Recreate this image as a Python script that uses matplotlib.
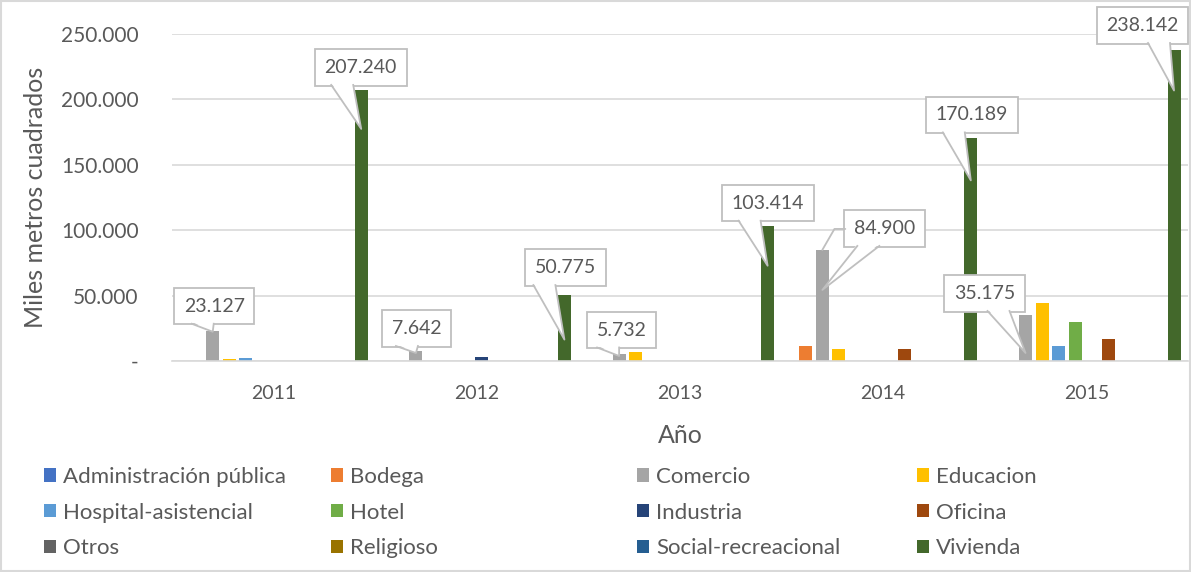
import matplotlib
matplotlib.use("Agg")
import matplotlib.pyplot as plt
from matplotlib.patches import Rectangle, Polygon
from matplotlib.lines import Line2D
from matplotlib.transforms import ScaledTranslation
from matplotlib.ticker import FuncFormatter
import numpy as np

plt.rcParams['font.family'] = ['Lato', 'DejaVu Sans']

# datos (miles de metros cuadrados por año)
anios = ['2011', '2012', '2013', '2014', '2015']
categorias = ['Administración pública', 'Bodega', 'Comercio', 'Educacion',
              'Hospital-asistencial', 'Hotel', 'Industria', 'Oficina',
              'Otros', 'Religioso', 'Social-recreacional', 'Vivienda']
admin = [0, 0, 0, 0, 0]
bodega = [0, 0, 0, 11500, 0]
comercio = [23127, 7642, 5732, 84900, 35175]
educacion = [1800, 0, 7200, 9500, 44000]
hospital = [2600, 0, 0, 0, 11500]
hotel = [0, 0, 0, 0, 30000]
industria = [0, 3000, 0, 0, 0]
oficina = [0, 0, 0, 9500, 16500]
otros = [0, 0, 0, 0, 0]
religioso = [0, 0, 0, 0, 0]
social = [0, 0, 0, 0, 0]
vivienda = [207240, 50775, 103414, 170189, 238142]

series = [admin, bodega, comercio, educacion, hospital, hotel, industria,
          oficina, otros, religioso, social, vivienda]
colores = ['#4472C4', '#ED7D31', '#A5A5A5', '#FFC000', '#5B9BD5', '#70AD47',
           '#264478', '#9E480E', '#636363', '#997300', '#255E91', '#43682B']

gris = '#595959'
linea = '#D9D9D9'
borde = '#BFBFBF'

fig = plt.figure(figsize=(11.91, 5.72), dpi=100)
ax = fig.add_axes([172/1191, 1-361/572, 1016/1191, 327/572])

x = np.arange(len(anios))
paso = 0.0812
ancho = 0.064
barras = []
for i, (vals, c) in enumerate(zip(series, colores)):
    off = -0.462 + i*paso
    b = ax.bar(x + off, vals, width=ancho, color=c, label=categorias[i], zorder=3)
    barras.append(b)

ax.set_xlim(-0.5, 4.5)
ax.set_ylim(0, 250000)
ax.set_yticks(np.arange(0, 250001, 50000))
ax.yaxis.set_major_formatter(FuncFormatter(
    lambda v, p: '-' if v == 0 else f'{int(v):,}'.replace(',', '.')))
ax.set_xticks(x)
ax.set_xticklabels(anios)
ax.tick_params(axis='both', length=0, colors=gris)
ax.tick_params(axis='y', pad=24, labelsize=15)
ax.tick_params(axis='x', pad=17, labelsize=14)
ax.grid(axis='y', color=linea, linewidth=1.2, zorder=0)
for s in ['top', 'right', 'left']:
    ax.spines[s].set_visible(False)
ax.spines['bottom'].set_color(linea)
ax.spines['bottom'].set_linewidth(1.2)
ax.spines['bottom'].set_zorder(4)

ax.set_ylabel('Miles metros cuadrados', fontsize=18, color=gris, labelpad=10)
ax.set_xlabel('Año', fontsize=18, color=gris, labelpad=16)

# llamadas: caja (dx, dy), base de la cuña (dx) y profundidad de la punta, en pixeles
llamadas = [
    (comercio, 2, [(1.5, 25.5, -10, 1), (0.5, 24.5, -9, 2), (2.5, 26, -11, 2.5),
                   (62, 61.5, 46, 40), (-41, 59.5, -27, 38)]),
    (vivienda, 11, [(-0.5, 61.5, -19, 39), (1, 72, -20, 45), (0.5, 62.5, -18, 40),
                    (1, 65.5, -17, 42), (-31.5, 65, -15, 41)]),
]
ypx = 250000/327
mitad = 17.5
for vals, idx, disp in llamadas:
    off = -0.462 + idx*paso
    for k, (v, (dx, dy, bdx, prof)) in enumerate(zip(vals, disp)):
        tx, ty = x[k] + off, v - prof*ypx
        ax.annotate(f'{v:,}'.replace(',', '.'), xy=(tx, ty),
                    xytext=(dx*0.72, dy*0.72), textcoords='offset points',
                    ha='center', va='center', fontsize=14, color=gris,
                    bbox=dict(boxstyle='square,pad=0.5', fc='white', ec=borde, lw=1.3),
                    annotation_clip=False, zorder=6)
        tr = fig.dpi_scale_trans + ScaledTranslation(tx, ty, ax.transData)
        by = dy - mitad
        tri = Polygon(np.array([(bdx-11, by+2), (0, 0), (bdx+11, by+2)])/100,
                      closed=True, fc='white', ec='none', transform=tr,
                      zorder=7, clip_on=False)
        ax.add_patch(tri)
        ax.add_line(Line2D(np.array([bdx-11, 0, bdx+11])/100, np.array([by, 0, by])/100,
                           transform=tr, color=borde, lw=1.3, zorder=7, clip_on=False))
        if vals is comercio and k == 3:
            # linea guia del 84.900
            ax.annotate('', xy=(tx, v), xytext=(23*0.72, 21*0.72), textcoords='offset points',
                        arrowprops=dict(arrowstyle='-', color=borde, lw=1.3, shrinkA=0, shrinkB=0,
                                        connectionstyle='angle,angleA=0,angleB=60,rad=0'),
                        zorder=6)

# leyenda en 4 columnas
col_x = [44, 331, 637, 917]
for c in range(4):
    hs = [barras[c + 4*r] for r in range(3)]
    leg = fig.legend(handles=hs, labels=[categorias[c + 4*r] for r in range(3)],
                     loc='upper left', bbox_to_anchor=(col_x[c]/1191, 1-467/572),
                     frameon=False, fontsize=16, borderpad=0, borderaxespad=0,
                     handlelength=0.55, handleheight=0.55, handletextpad=0.3,
                     labelspacing=0.7)
    for t in leg.get_texts():
        t.set_color(gris)

fig.patches.append(Rectangle((0.001, 0.002), 0.998, 0.996, transform=fig.transFigure,
                             fill=False, ec=linea, lw=1.5))

fig.savefig('out.png', dpi=100)
